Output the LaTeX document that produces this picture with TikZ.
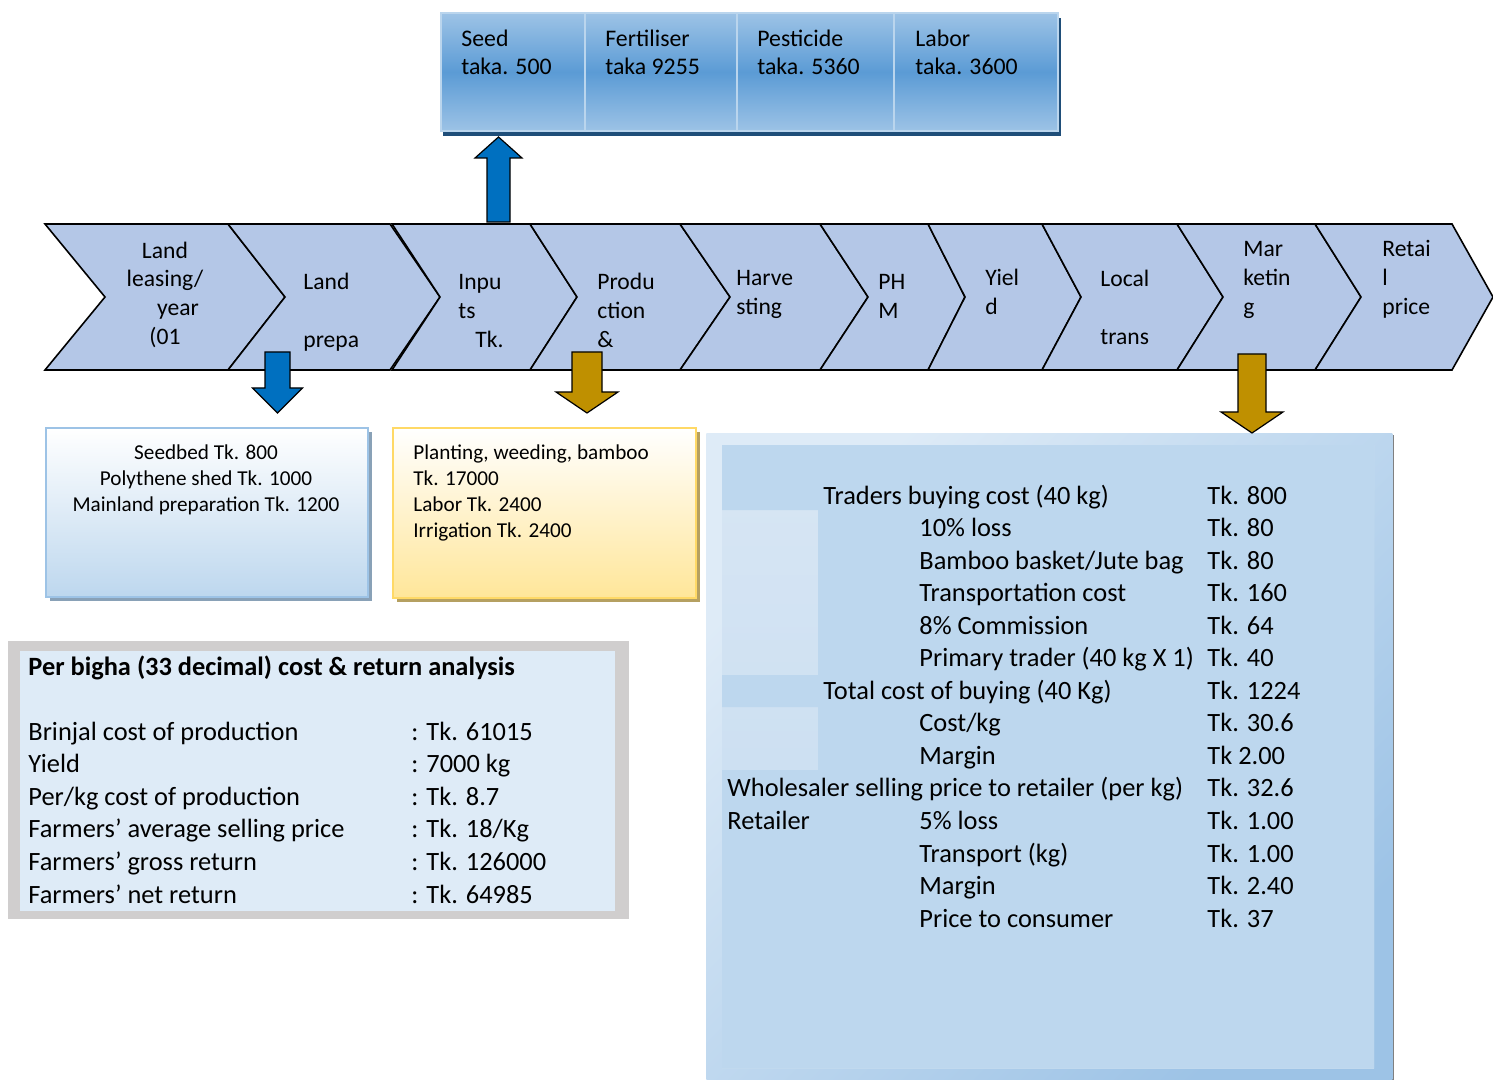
\documentclass[tikz,border=0pt]{standalone}
\usepackage{fontspec}
\setmainfont{Carlito}
\usetikzlibrary{positioning,calc,shadows}

\definecolor{chevfill}{HTML}{B4C7E7}
\definecolor{arrowblue}{HTML}{0070C0}
\definecolor{arrowgold}{HTML}{BF9000}
\definecolor{cellmid}{HTML}{5B9BD5}
\definecolor{celledge}{HTML}{9DC3E6}
\definecolor{navyshadow}{HTML}{1F4E79}
\definecolor{paleblue}{HTML}{BDD7EE}
\definecolor{paleyellow}{HTML}{FFE699}
\definecolor{goldedge}{HTML}{FFD966}
\definecolor{tablegray}{HTML}{D0CECE}
\definecolor{tableblue}{HTML}{DEEBF7}
\definecolor{lightstrip}{HTML}{D8E6F4}

\tikzset{
  chev/.style={draw=black,fill=chevfill,line width=0.8pt},
  chevtext/.style={font=\fontsize{11.8}{14.5}\selectfont,align=left,inner sep=0pt,anchor=base west},
  cell/.style={draw=celledge!70!white,line width=1.2pt,top color=celledge,bottom color=celledge,middle color=cellmid,minimum height=59pt,anchor=north west,inner sep=0pt},
  celltext/.style={font=\fontsize{11.9}{14}\selectfont,align=left,inner sep=0pt,anchor=base west},
  boxtext/.style={font=\fontsize{10.6}{13}\selectfont,inner sep=0pt,anchor=base},
  tabtext/.style={font=\fontsize{13.2}{16.3}\selectfont,inner sep=0pt,anchor=base west},
  blocktip/.style={draw=black,line width=0.6pt,line join=miter},
}

% tail, tip: named points; then half shaft, half head, head length
\newcommand\blockarrow[6]{%
  \draw[blocktip,fill=#1]
    let \p1=(#2),\p2=($(#3)!#6!(#2)$),\p3=(#3) in
    (\x1-#4,\y1) -- (\x1-#4,\y2) -- (\x1-#5,\y2) -- (\x3,\y3)
    -- (\x1+#5,\y2) -- (\x1+#4,\y2) -- (\x1+#4,\y1) -- cycle;}

\begin{document}
\begin{tikzpicture}[x=0.5pt,y=-0.5pt]
\useasboundingbox (0,0) rectangle (1493,1080);

% input costs on top (multi-line text sits on its last baseline)
\fill[navyshadow] (443,18) rectangle (1061,136);
\node[cell,minimum width=72pt] (seed) at (440,12) {};
\node[cell,minimum width=76pt] (fert) at (584,12) {};
\node[cell,minimum width=78.5pt] (pest) at (736,12) {};
\node[cell,minimum width=82pt] (labor) at (893,12) {};
\node[celltext] (seedtxt) at (461,75) {Seed\\taka. 500};
\node[celltext] (ferttxt) at (605,75) {Fertiliser\\taka 9255};
\node[celltext] (pesttxt) at (757,75) {Pesticide\\taka. 5360};
\node[celltext] (labortxt) at (915,75) {Labor\\taka. 3600};

% value chain
\foreach \xl/\xr/\dn/\dp in {45/228/60/57, 228/390/57/50, 392/530/48/47, 530/680/47/50, 680/820/50/48, 820/928/48/37, 928/1042/37/39, 1042/1177/39/46, 1177/1315/46/46, 1315/1452/46/41}
  \draw[chev] (\xl,224) -- (\xr,224) -- ++(\dp,73) -- (\xr,370) -- (\xl,370) -- ++(\dn,-73) -- cycle;

\node[chevtext,align=center,anchor=base] (leasetxt) at (165,345) {Land\\leasing/\\\hspace*{13pt}year\\(01};
\node[chevtext] (preptxt) at (303,348) {Land\\[14.5pt]prepa};
\node[chevtext] (inputstxt) at (458,348) {Inpu\\ts\\\hspace*{8.5pt}Tk.};
\node[chevtext] (prodtxt) at (597,348) {Produ\\ction\\\&};
\node[chevtext] (harvtxt) at (736,315) {Harve\\sting};
\node[chevtext] (phmtxt) at (878,319) {PH\\M};
\node[chevtext] (yieldtxt) at (985,315) {Yiel\\d};
\node[chevtext] (ltranstxt) at (1100,345) {Local\\[14.5pt]trans};
\node[chevtext] (mkttxt) at (1243,315) {Mar\\ketin\\g};
\node[chevtext] (retailtxt) at (1382,315) {Retai\\l\\price};

% land preparation and production boxes
\node[draw=celledge,line width=1.2pt,top color=white,bottom color=paleblue,minimum width=161pt,minimum height=84.5pt,anchor=north west,inner sep=0pt,
  drop shadow={shadow xshift=2pt,shadow yshift=-2pt,fill=black!10!celledge!70!gray,opacity=1}] (prepbox) at (45,427) {};
\node[boxtext,align=center] (preptext) at (206,511) {Seedbed Tk. 800\\Polythene shed Tk. 1000\\Mainland preparation Tk. 1200};
\node[draw=goldedge,line width=1.2pt,top color=white,bottom color=paleyellow,minimum width=151.5pt,minimum height=85pt,anchor=north west,inner sep=0pt,
  drop shadow={shadow xshift=2pt,shadow yshift=-2pt,fill=arrowgold!55!gray!80,opacity=1}] (prodbox) at (392,427) {};
\node[boxtext,align=left,anchor=base west] (prodtext) at (413,537) {Planting, weeding, bamboo\\Tk. 17000\\Labor Tk. 2400\\Irrigation Tk. 2400};

% cost and return analysis
\node[fill=tablegray,minimum width=310.5pt,minimum height=139pt,anchor=north west,inner sep=0pt] (costframe) at (8,641) {};
\node[fill=tableblue,minimum width=297.5pt,minimum height=130pt,anchor=north west,inner sep=0pt] (costbox) at (20,651) {};
\node[tabtext] (costtitle) at (28,675) {\bfseries Per bigha (33 decimal) cost \& return analysis};
\foreach \lbl/\val [count=\i] in {Brinjal cost of production/{: Tk. 61015}, Yield/{: 7000 kg}, {Per/kg cost of production}/{: Tk. 8.7}, Farmers’ average selling price/{: Tk. 18/Kg}, Farmers’ gross return/{: Tk. 126000}, Farmers’ net return/{: Tk. 64985}} {
  \node[tabtext] (costlbl\i) at (28,{740+(\i-1)*32.6}) {\lbl};
  \node[tabtext] (costval\i) at (411,{740+(\i-1)*32.6}) {\val};
}

% marketing margins
\node[minimum width=343pt,minimum height=323.5pt,anchor=north west,inner sep=0pt,top color=tableblue,bottom color=celledge,shading angle=45,
  drop shadow={shadow xshift=1pt,shadow yshift=-1pt,fill=gray,opacity=1}] (mktbox) at (706,433) {};
\fill[top color=lightstrip,bottom color=paleblue!80!lightstrip] (722,445) rectangle (1374,1068);
\fill[paleblue] (722,445) -- (1374,445) -- (1374,1068) -- (722,1068) -- (722,770) -- (818,770) -- (818,707) -- (722,707)
  -- (722,675) -- (818,675) -- (818,510) -- (722,510) -- cycle;
\foreach \x/\lbl/\val [count=\i] in {823/{Traders buying cost (40 kg)}/{Tk. 800}, 919/{10\% loss}/{Tk. 80}, 919/{Bamboo basket/Jute bag}/{Tk. 80},
  919/{Transportation cost}/{Tk. 160}, 919/{8\% Commission}/{Tk. 64}, 919/{Primary trader (40 kg X 1)}/{Tk. 40},
  823/{Total cost of buying (40 Kg)}/{Tk. 1224}, 919/{Cost/kg}/{Tk. 30.6}, 919/{Margin}/{Tk 2.00},
  727/{Wholesaler selling price to retailer (per kg)}/{Tk. 32.6}, 919/{5\% loss}/{Tk. 1.00}, 919/{Transport (kg)}/{Tk. 1.00},
  919/{Margin}/{Tk. 2.40}, 919/{Price to consumer}/{Tk. 37}} {
  \node[tabtext] (mktlbl\i) at (\x,{504+(\i-1)*32.55}) {\lbl};
  \node[tabtext] (mktval\i) at (1207,{504+(\i-1)*32.55}) {\val};
}
\node[tabtext] (retailer) at (727,{504+10*32.55}) {Retailer};

% block arrows
\coordinate (inputsup) at (498.5,222);
\coordinate (cellsfoot) at (498.5,137);
\blockarrow{arrowblue}{inputsup}{cellsfoot}{5.75pt}{11.75pt}{10.5pt}
\coordinate (prepdown) at (277.5,352);
\coordinate (prepboxtop) at (277.5,413);
\blockarrow{arrowblue}{prepdown}{prepboxtop}{6.25pt}{12.5pt}{12.5pt}
\coordinate (proddown) at (587,352);
\coordinate (prodboxtop) at (587,413);
\blockarrow{arrowgold}{proddown}{prodboxtop}{7.5pt}{15.5pt}{10.5pt}
\coordinate (mktdown) at (1252,354);
\coordinate (mktboxtop) at (1252,433);
\blockarrow{arrowgold}{mktdown}{mktboxtop}{7pt}{15.5pt}{10.5pt}
\end{tikzpicture}
\end{document}
